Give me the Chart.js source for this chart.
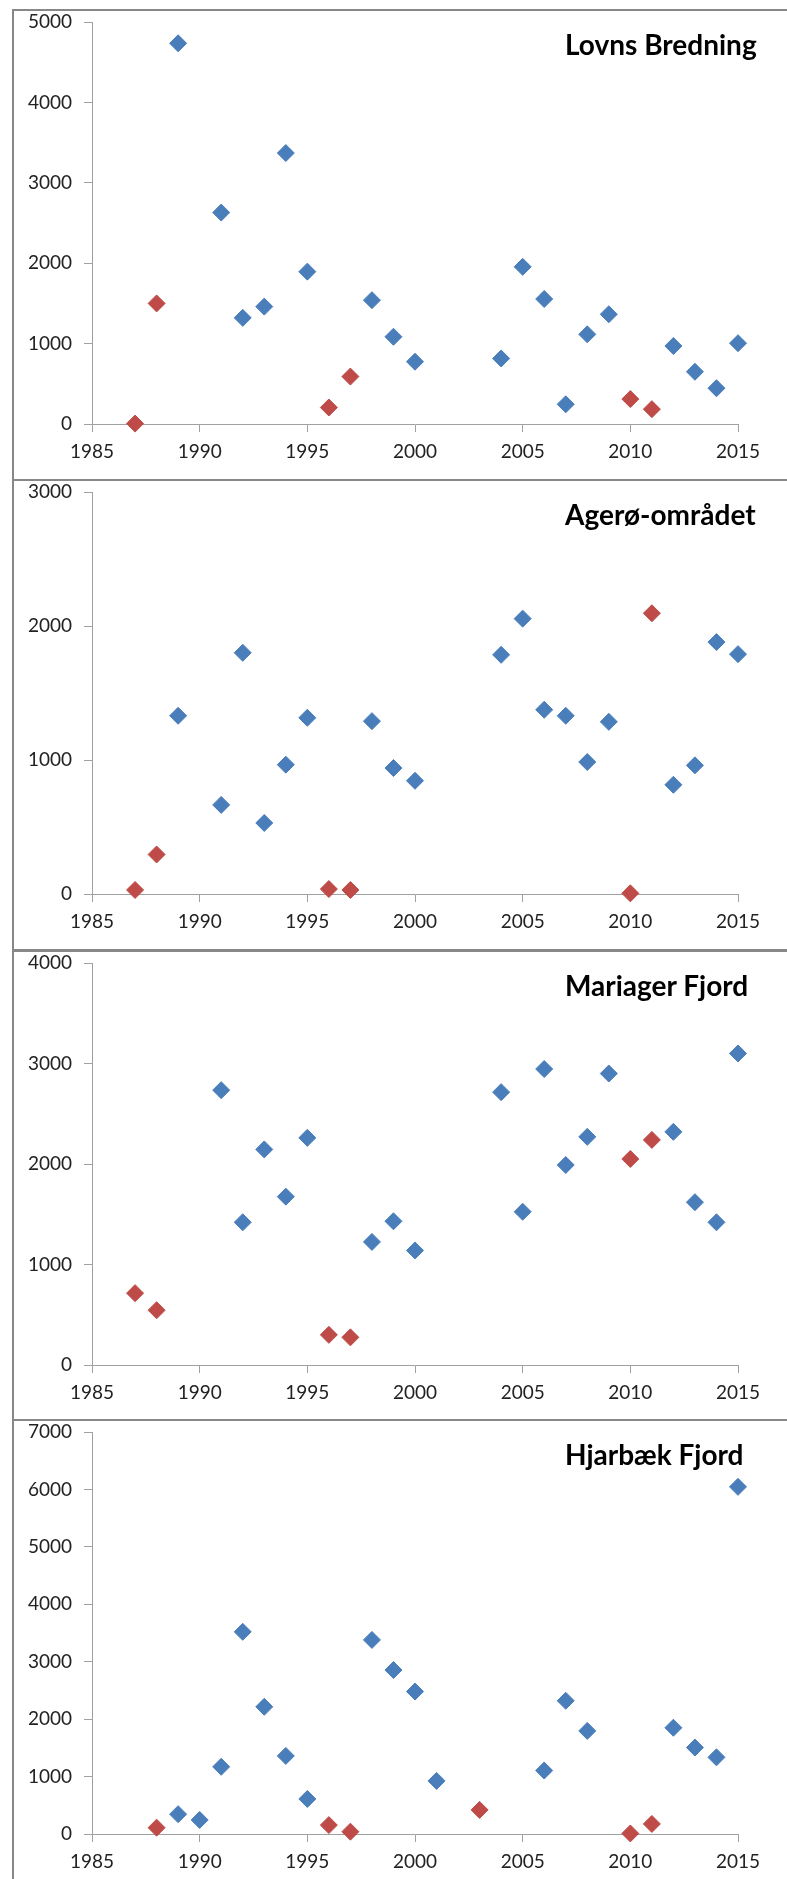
<!DOCTYPE html>
<html lang="da">
<head>
    <meta charset="UTF-8">
    <title>Fire fjordområder 1985–2015</title>
    <script src="https://cdn.jsdelivr.net/npm/chart.js"></script>
    <style>
        body { margin: 0; background: #fff; width: 787px; height: 1879px; overflow: hidden; position: relative; font-family: Lato, "Open Sans", sans-serif; }
        .panel { position: absolute; left: 12px; width: 800px; height: 472px; border: 2px solid #878787; box-sizing: border-box; background: #fff; }
        .panel canvas { position: absolute; left: 0; top: 0; }
        .titel { position: absolute; left: 551px; top: 19px; font: bold 28px Lato, sans-serif; line-height: 1; color: #000; white-space: nowrap; }
    </style>
</head>
<body>

<div class="panel" style="top:9px"><canvas id="lovns" width="764" height="466"></canvas><div class="titel">Lovns Bredning</div></div>
<div class="panel" style="top:479px"><canvas id="ageroe" width="764" height="466"></canvas><div class="titel">Agerø-området</div></div>
<div class="panel" style="top:950px"><canvas id="mariager" width="764" height="466"></canvas><div class="titel">Mariager Fjord</div></div>
<div class="panel" style="top:1419px"><canvas id="hjarbaek" width="764" height="466"></canvas><div class="titel">Hjarbæk Fjord</div></div>

<script>
    // Lovns Bredning
    const lovnsAarBlaa = [1989, 1991, 1992, 1993, 1994, 1995, 1998, 1999, 2000, 2004, 2005, 2006, 2007, 2008, 2009, 2012, 2013, 2014, 2015];
    const lovnsBlaa = [4735, 2630, 1320, 1460, 3370, 1895, 1540, 1085, 775, 815, 1955, 1555, 245, 1115, 1365, 970, 650, 445, 1005];
    const lovnsAarRoed = [1987, 1988, 1996, 1997, 2010, 2011];
    const lovnsRoed = [5, 1500, 205, 590, 310, 185];

    // Agerø-området
    const ageroeAarBlaa = [1989, 1991, 1992, 1993, 1994, 1995, 1998, 1999, 2000, 2004, 2005, 2006, 2007, 2008, 2009, 2012, 2013, 2014, 2015];
    const ageroeBlaa = [1330, 665, 1800, 530, 965, 1315, 1290, 940, 845, 1785, 2055, 1375, 1330, 985, 1285, 815, 960, 1880, 1790];
    const ageroeAarRoed = [1987, 1988, 1996, 1997, 2010, 2011];
    const ageroeRoed = [30, 295, 37, 30, 5, 2095];

    // Mariager Fjord
    const mariagerAarBlaa = [1991, 1992, 1993, 1994, 1995, 1998, 1999, 2000, 2004, 2005, 2006, 2007, 2008, 2009, 2012, 2013, 2014, 2015];
    const mariagerBlaa = [2735, 1420, 2145, 1675, 2260, 1225, 1430, 1140, 2715, 1525, 2945, 1990, 2270, 2900, 2320, 1620, 1420, 3100];
    const mariagerAarRoed = [1987, 1988, 1996, 1997, 2010, 2011];
    const mariagerRoed = [715, 545, 300, 275, 2050, 2240];

    // Hjarbæk Fjord
    const hjarbaekAarBlaa = [1989, 1990, 1991, 1992, 1993, 1994, 1995, 1998, 1999, 2000, 2001, 2006, 2007, 2008, 2012, 2013, 2014, 2015];
    const hjarbaekBlaa = [345, 245, 1170, 3520, 2215, 1360, 610, 3380, 2855, 2480, 925, 1105, 2320, 1795, 1850, 1505, 1335, 6045];
    const hjarbaekAarRoed = [1988, 1996, 1997, 2003, 2010, 2011];
    const hjarbaekRoed = [110, 155, 40, 420, 10, 175];

    const aarMin = 1985, aarMax = 2015, aarSkridt = 5;
    const yMaks = { lovns: 5000, ageroe: 3000, mariager: 4000, hjarbaek: 7000 };

    const blaa = "#4a7ebb";
    const roed = "#be4b48";
    const akseFarve = "#a0a0a0";
    const skrift = { family: "Lato, sans-serif", size: 19 };

    function punkter(aar, vaerdier) {
        return aar.map((a, i) => ({ x: a, y: vaerdier[i] }));
    }

    function tegn(id, aarB, blaaV, aarR, roedV, max) {
        new Chart(document.getElementById(id), {
            type: 'scatter',
            data: {
                datasets: [
                    { label: "blå", data: punkter(aarB, blaaV), backgroundColor: blaa, borderColor: blaa, borderWidth: 1, pointStyle: 'rectRot', pointRadius: 8.5, clip: false },
                    { label: "rød", data: punkter(aarR, roedV), backgroundColor: roed, borderColor: roed, borderWidth: 1, pointStyle: 'rectRot', pointRadius: 8.5, clip: false }
                ]
            },
            options: {
                responsive: false,
                animation: false,
                events: [],
                layout: { autoPadding: false, padding: { left: 0, right: 40, top: 0, bottom: 0 } },
                plugins: { legend: { display: false }, tooltip: { enabled: false } },
                scales: {
                    x: {
                        type: 'linear', min: aarMin, max: aarMax,
                        afterFit: s => { s.height = 53; },
                        ticks: { stepSize: aarSkridt, padding: 8, color: "#222", font: skrift, maxRotation: 0, callback: v => String(v) },
                        grid: { drawOnChartArea: false, drawTicks: true, tickLength: 8, color: akseFarve },
                        border: { display: true, color: akseFarve, width: 1 }
                    },
                    y: {
                        min: 0, max: max,
                        // fast bredde, og ingen ekstra luft over øverste etiket
                        afterFit: s => { s.width = 78; s.paddingTop = 11; s.paddingBottom = 11; },
                        ticks: { stepSize: 1000, padding: 12, color: "#222", font: skrift, callback: v => String(v) },
                        grid: { drawOnChartArea: false, drawTicks: true, tickLength: 8, color: akseFarve },
                        border: { display: true, color: akseFarve, width: 1 }
                    }
                }
            }
        });
    }

    tegn("lovns", lovnsAarBlaa, lovnsBlaa, lovnsAarRoed, lovnsRoed, yMaks.lovns);
    tegn("ageroe", ageroeAarBlaa, ageroeBlaa, ageroeAarRoed, ageroeRoed, yMaks.ageroe);
    tegn("mariager", mariagerAarBlaa, mariagerBlaa, mariagerAarRoed, mariagerRoed, yMaks.mariager);
    tegn("hjarbaek", hjarbaekAarBlaa, hjarbaekBlaa, hjarbaekAarRoed, hjarbaekRoed, yMaks.hjarbaek);
</script>

</body>
</html>
